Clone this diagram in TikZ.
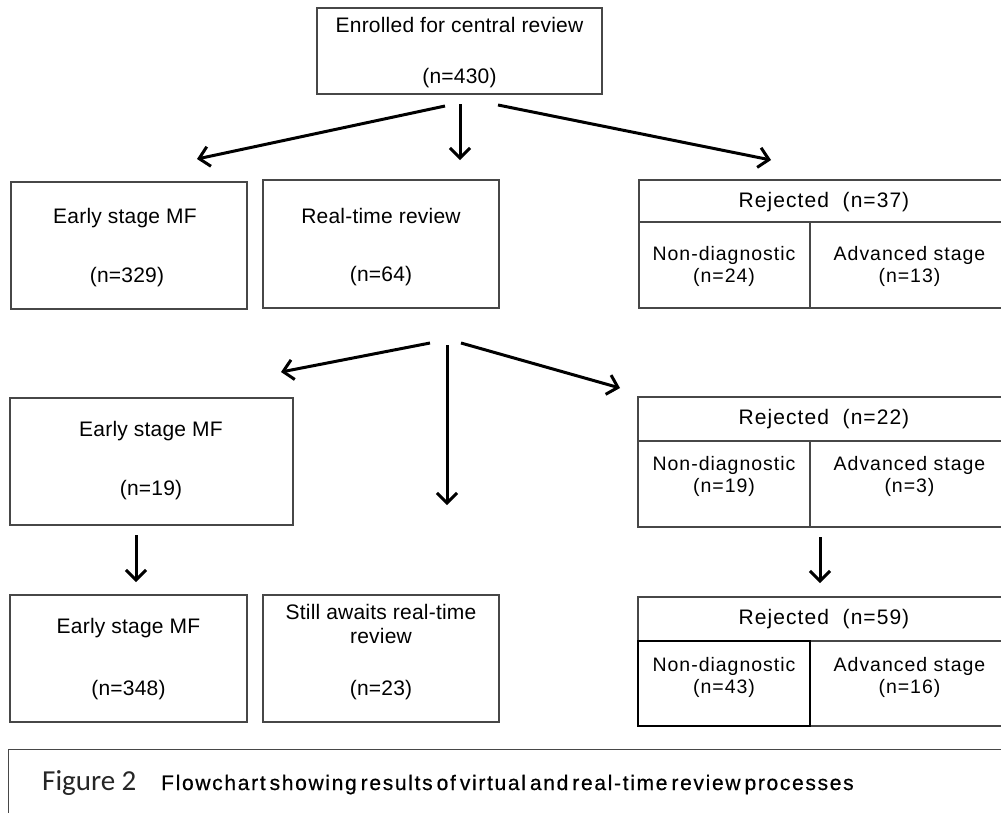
\documentclass[tikz,border=0pt]{standalone}
\usepackage{fontspec}
\setmainfont{Liberation Sans}
\newfontfamily\figfont{Carlito}
\newfontfamily\bigfont[LetterSpace=1]{Liberation Sans}
\newfontfamily\smallfont[LetterSpace=5]{Liberation Sans}
\newfontfamily\headfont[LetterSpace=5]{Liberation Sans}
\newfontfamily\capfont[LetterSpace=8,FakeBold=0.6]{Liberation Sans}
\usetikzlibrary{arrows.meta}
\begin{document}
\begin{tikzpicture}[x=1pt,y=-1pt,
  box/.style={draw=black!72, line width=1.1pt, inner sep=0pt, rectangle},
  arr/.style={line width=3pt, -{Straight Barb[length=10pt,width=20pt,line width=3pt]}},
  big/.style={font=\bigfont\fontsize{21}{24}\selectfont, inner sep=0pt, align=center},
  head/.style={font=\headfont\fontsize{21}{24}\selectfont, inner sep=0pt, align=center},
  small/.style={font=\smallfont\fontsize{19.5}{22}\selectfont, inner sep=0pt, align=center}]
\useasboundingbox (0,0) rectangle (1001,812);
\clip (0,0) rectangle (1001,812);
\fill[white] (0,0) rectangle (1001,812);

% top box
\node[box, minimum width=285pt, minimum height=86pt] (top) at (459.5,51) {};
\node[big] (topt1) at (459.5,25) {Enrolled for central review};
\node[big] (topt2) at (459.5,78) {(n=430)};

% row 1
\node[box, minimum width=236pt, minimum height=127pt] (e1) at (129,245.5) {};
\node[big] (e1t1) at (125,218) {Early stage MF};
\node[big] (e1t2) at (127,277) {(n=329)};

\node[box, minimum width=236pt, minimum height=128pt] (rt) at (381,244) {};
\node[big] (rtt1) at (381,216) {Real-time review};
\node[big] (rtt2) at (381,276) {(n=64)};

\node[box, minimum width=370pt, minimum height=42pt] (r1h) at (824,201) {};
\node[box, minimum width=171pt, minimum height=86pt] (r1l) at (724.5,265) {};
\node[box, minimum width=199pt, minimum height=86pt] (r1r) at (909.5,265) {};
\node[head] (r1ht) at (824,202) {Rejected\ \ (n=37)};
\node[small] (r1lt) at (724,266) {Non-diagnostic\\(n=24)};
\node[small] (r1rt) at (909.5,266) {Advanced stage\\(n=13)};

% row 2
\node[box, minimum width=283pt, minimum height=127pt] (e2) at (151.5,461.5) {};
\node[big] (e2t1) at (151,431) {Early stage MF};
\node[big] (e2t2) at (151,490) {(n=19)};

\node[box, minimum width=371pt, minimum height=44pt] (r2h) at (823.5,419) {};
\node[box, minimum width=172pt, minimum height=86pt] (r2l) at (724,484) {};
\node[box, minimum width=199pt, minimum height=86pt] (r2r) at (909.5,484) {};
\node[head] (r2ht) at (824,419) {Rejected\ \ (n=22)};
\node[small] (r2lt) at (724,476.5) {Non-diagnostic\\(n=19)};
\node[small] (r2rt) at (909.5,476.5) {Advanced stage\\(n=3)};

% row 3
\node[box, minimum width=237pt, minimum height=127pt] (e3) at (128.5,658.5) {};
\node[big] (e3t1) at (128.5,628) {Early stage MF};
\node[big] (e3t2) at (128.5,690) {(n=348)};

\node[box, minimum width=236pt, minimum height=127pt] (sa) at (381,658.5) {};
\node[big] (sat1) at (381,624) {Still awaits real-time\\review};
\node[big] (sat2) at (381,690) {(n=23)};

\node[box, minimum width=371pt, minimum height=44pt] (r3h) at (823.5,619) {};
\node[box, minimum width=199pt, minimum height=85pt] (r3r) at (909.5,683.5) {};
\node[box, draw=black, line width=2pt, minimum width=172pt, minimum height=85pt] (r3l) at (724,683.5) {};
\node[head] (r3ht) at (824,619) {Rejected\ \ (n=59)};
\node[small] (r3lt) at (724,677.5) {Non-diagnostic\\(n=43)};
\node[small] (r3rt) at (909.5,677.5) {Advanced stage\\(n=16)};

% arrow end points
\coordinate (a1s) at (445,106); \coordinate (a1e) at (197,159);
\coordinate (a2s) at (460,104); \coordinate (a2e) at (460,160);
\coordinate (a3s) at (498,105); \coordinate (a3e) at (771,160);
\coordinate (b1s) at (430,343); \coordinate (b1e) at (281,372);
\coordinate (b2s) at (447,345); \coordinate (b2e) at (447,505);
\coordinate (b3s) at (461,343); \coordinate (b3e) at (620,388);
\coordinate (c1s) at (136,535); \coordinate (c1e) at (136,582);
\coordinate (c2s) at (820,537); \coordinate (c2e) at (820,583);

\draw[arr] (a1s) -- (a1e);
\draw[arr] (a2s) -- (a2e);
\draw[arr] (a3s) -- (a3e);
\draw[arr] (b1s) -- (b1e);
\draw[arr] (b2s) -- (b2e);
\draw[arr] (b3s) -- (b3e);
\draw[arr] (c1s) -- (c1e);
\draw[arr] (c2s) -- (c2e);

% caption
\node[box, anchor=north west, minimum width=1010pt, minimum height=80pt] (cap) at (8,749) {};
\node[anchor=base west, inner sep=0pt, font=\figfont\fontsize{29}{32}\selectfont, text=black!85] (capf) at (42,790) {Figure 2};
\node[anchor=base west, inner sep=0pt, font=\capfont\fontsize{21}{24}\selectfont] (capt) at (161,790) {\spaceskip=4pt\relax Flowchart showing results of virtual and real-time review processes};
\end{tikzpicture}
\end{document}
